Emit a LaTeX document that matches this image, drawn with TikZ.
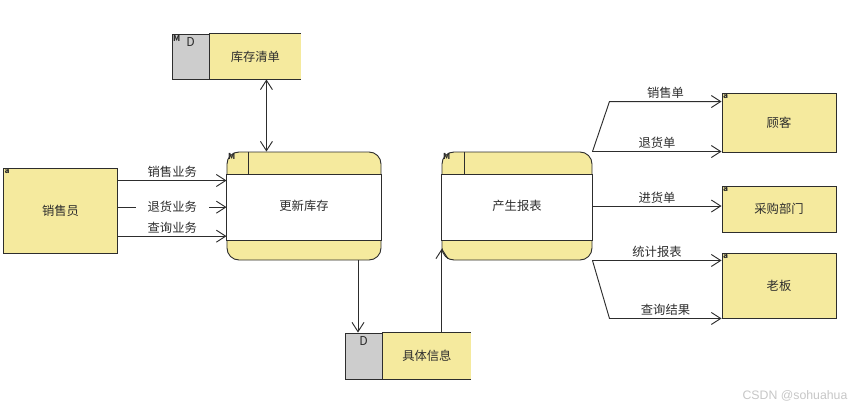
\documentclass[tikz,border=0pt]{standalone}
\usepackage{fontspec}
\setmainfont{Noto Sans CJK SC}
\newfontfamily\wmfont{Liberation Sans}
\usetikzlibrary{arrows.meta,positioning}
\definecolor{ylw}{RGB}{245,234,158}
\definecolor{gry}{RGB}{205,205,205}
\definecolor{ink}{RGB}{45,45,45}
\begin{document}
\begin{tikzpicture}[
			x=0.03cm, y=-0.03cm,
			color=ink,
			line width=0.8pt,
			font=\fontsize{10.5}{12}\selectfont,
			flow/.style={-{Straight Barb[length=2.8mm,width=3.6mm]}},
			tag/.style={anchor=north west, inner sep=1pt, font=\fontsize{7}{7}\selectfont\bfseries},
			entity/.style={
				rectangle,
				draw=ink,
				fill=ylw,
				minimum width=3.42cm,
				inner sep=0pt
			},
			proc/.style={
				rectangle,
				draw=ink,
				fill=ylw,
				rounded corners=0.36cm,
				minimum height=3.24cm,
				inner sep=0pt
			},
			dtag/.style={
				rectangle,
				draw=ink,
				fill=gry,
				minimum width=1.11cm,
				inner sep=0pt
			},
			dname/.style={
				rectangle,
				fill=ylw,
				inner sep=0pt
			},
			lbl/.style={inner sep=2pt}
			]

			\useasboundingbox (0,0) rectangle (865,410);

			% Data stores
			\node[dtag, minimum height=1.35cm,
			label={[tag]north west:M},
			label={[anchor=north, inner sep=3pt]north:D}] (kcd) at (190.5,56.5) {};
			\node[dname, minimum width=2.73cm, minimum height=1.35cm,
			right=0pt of kcd] (kcl) {库存清单};
			\draw (kcd.north east) -- (kcl.north east);
			\draw (kcd.south east) -- (kcl.south east);

			\node[dtag, minimum height=1.38cm,
			label={[anchor=north, inner sep=3pt]north:D}] (jtd) at (363.5,356) {};
			\node[dname, minimum width=2.64cm, minimum height=1.38cm,
			right=0pt of jtd] (jtl) {具体信息};
			\draw (jtd.north east) -- (jtl.north east);
			\draw (jtd.south east) -- (jtl.south east);

			% Processes
			\node[proc, minimum width=4.62cm, label={[tag]north west:M}] (gx) at (304,206) {};
			\draw[fill=white] ([yshift=-0.69cm]gx.north west) rectangle ([yshift=0.6cm]gx.south east);
			\draw ([xshift=0.66cm]gx.north west) -- ++(0,23);
			\node[lbl] at (gx.center) {更新库存};

			\node[proc, minimum width=4.5cm, label={[tag]north west:M}] (bb) at (517,206) {};
			\draw[fill=white] ([yshift=-0.69cm]bb.north west) rectangle ([yshift=0.6cm]bb.south east);
			\draw ([xshift=0.69cm]bb.north west) -- ++(0,23);
			\node[lbl] at (bb.center) {产生报表};

			% External entities
			\node[entity, minimum height=2.55cm, label={[tag]north west:a}] (xsy) at (60.5,210.5) {销售员};
			\node[entity, minimum height=1.77cm, label={[tag]north west:a}] (gk) at (779,122.5) {顾客};
			\node[entity, minimum height=1.38cm, label={[tag]north west:a}] (cg) at (779,209) {采购部门};
			\node[entity, minimum height=1.95cm, label={[tag]north west:a}] (lb) at (779,285.5) {老板};

			% Store links
			\coordinate (a1) at ([xshift=0.33cm]kcl.south);
			\draw[{Straight Barb[length=2.8mm,width=3.6mm]}-{Straight Barb[length=2.8mm,width=3.6mm]}]
			(a1) -- (a1 |- gx.north);

			\coordinate (a2) at ([xshift=1.62cm]gx.south);
			\draw[flow] (a2) -- (a2 |- jtd.north);

			\coordinate (a3) at ([xshift=0.45cm]jtl.north);
			\coordinate (a4) at ([yshift=0.36cm]bb.south west);
			\draw[flow] (a3) -- (a3 |- a4);

			% Inputs
			\draw[flow] ([yshift=0.9cm]xsy.east) coordinate (c1)
			-- node[lbl, above] {销售业务} (c1 -| gx.west);
			\draw[flow] ([yshift=0.1cm]xsy.east) coordinate (c2)
			-- node[lbl, fill=white, inner xsep=0.36cm] {退货业务} (c2 -| gx.west);
			\draw[flow] ([yshift=-0.77cm]xsy.east) coordinate (c3)
			-- node[lbl, above] {查询业务} (c3 -| gx.west);

			% Outputs
			\draw[flow] (bb.north east) -- ++(17,-50) coordinate (b1)
			-- node[lbl, above] {销售单} (b1 -| gk.west);
			\draw[flow] (bb.north east) -- node[lbl, above] {退货单} (bb.north east -| gk.west);
			\draw[flow] (bb.east) -- node[lbl, above] {进货单} (bb.east -| cg.west);
			\draw[flow] (bb.south east) -- node[lbl, above] {统计报表} (bb.south east -| lb.west);
			\draw[flow] (bb.south east) -- ++(17,58) coordinate (b2)
			-- node[lbl, above] {查询结果} (b2 -| lb.west);

			\node[text=gray!45, font=\wmfont\fontsize{10.5}{12}\selectfont] (wm) at (795,396) {CSDN @sohuahua};

		\end{tikzpicture}
\end{document}
